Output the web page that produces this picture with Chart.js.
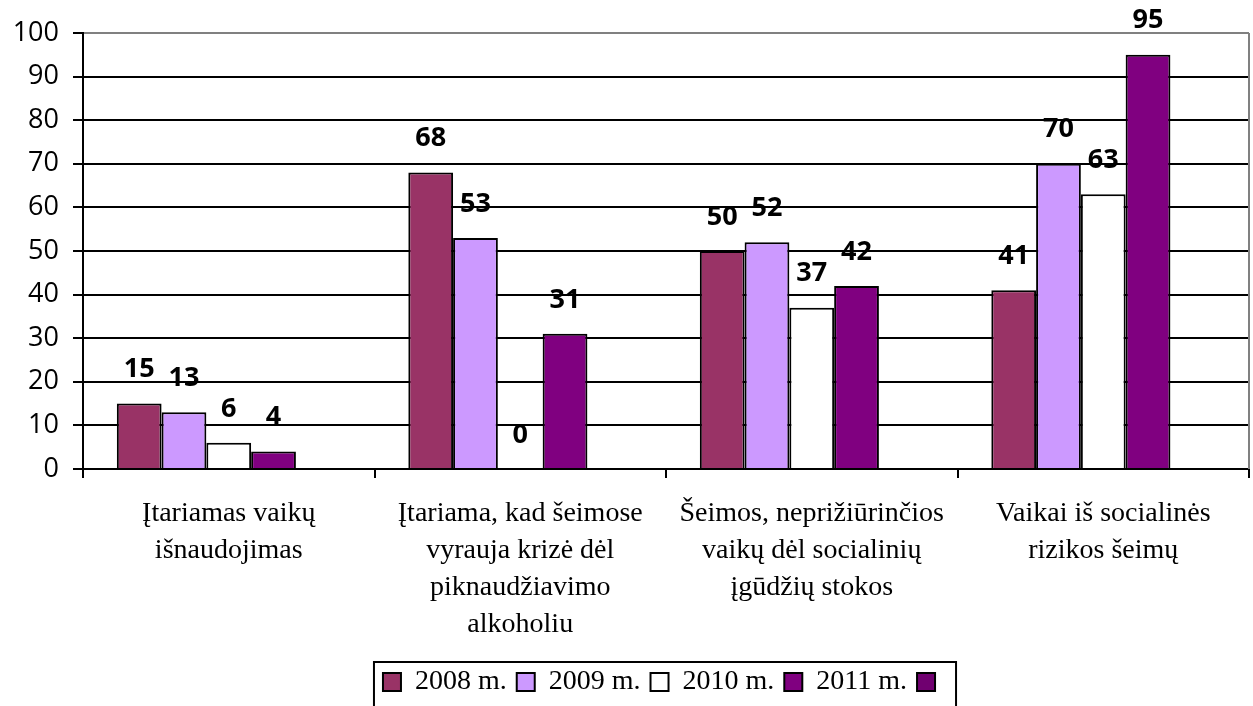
<!DOCTYPE html>
<html>
<head>
<meta charset="utf-8">
<script src="https://cdn.jsdelivr.net/npm/chart.js@4"></script>
<style>
  html, body { margin: 0; padding: 0; background: #fff; }
  #wrap { width: 1253px; height: 706px; position: relative; }
</style>
</head>
<body>
<div id="wrap"><canvas id="chart"></canvas></div>
<script>
const categories = [
  ['Įtariamas vaikų', 'išnaudojimas'],
  ['Įtariama, kad šeimose', 'vyrauja krizė dėl', 'piknaudžiavimo', 'alkoholiu'],
  ['Šeimos, neprižiūrinčios', 'vaikų dėl socialinių', 'įgūdžių stokos'],
  ['Vaikai iš socialinės', 'rizikos šeimų']
];
const seriesNames = ['2008 m.', '2009 m.', '2010 m.', '2011 m.', ''];
const values2008 = [15, 68, 50, 41];
const values2009 = [13, 53, 52, 70];
const values2010 = [6, 0, 37, 63];
const values2011 = [4, 31, 42, 95];
const valuesEmpty = [null, null, null, null]; // legend shows a 5th unnamed entry
const seriesColors = ['#993366', '#CC99FF', '#FFFFFF', '#800080', '#700070'];
const yMin = 0, yMax = 100, yStep = 10;

const allValues = [values2008, values2009, values2010, values2011, valuesEmpty];

// bold value labels above each bar
const valueLabels = {
  id: 'valueLabels',
  afterDatasetsDraw(chart) {
    const ctx = chart.ctx;
    ctx.save();
    ctx.font = 'bold 27px "Open Sans"';
    ctx.fillStyle = '#000';
    ctx.textAlign = 'center';
    ctx.textBaseline = 'middle';
    chart.data.datasets.forEach((ds, i) => {
      chart.getDatasetMeta(i).data.forEach((bar, j) => {
        const v = ds.data[j];
        if (v === null || v === undefined) return;
        ctx.fillText(String(v), bar.x, bar.y - 34);
      });
    });
    ctx.restore();
  }
};

// grey plot border on the right, box round the legend
const frames = {
  id: 'frames',
  beforeDatasetsDraw(chart) {
    const { ctx, chartArea } = chart;
    ctx.save();
    ctx.strokeStyle = '#808080';
    ctx.lineWidth = 2;
    ctx.beginPath();
    ctx.moveTo(chartArea.right, chartArea.top);
    ctx.lineTo(chartArea.right, chartArea.bottom);
    ctx.stroke();
    ctx.restore();
  },
  afterDraw(chart) {
    const lg = chart.legend;
    if (!lg || !lg.legendHitBoxes.length) return;
    const boxes = lg.legendHitBoxes;
    const left = boxes[0].left - 9;
    const right = boxes[boxes.length - 1].left + 18 + 21;
    const ctx = chart.ctx;
    ctx.save();
    ctx.strokeStyle = '#000';
    ctx.lineWidth = 2;
    ctx.strokeRect(left, 662, right - left, 60);
    ctx.restore();
  }
};

const ctx = document.getElementById('chart').getContext('2d');
new Chart(ctx, {
  type: 'bar',
  data: {
    labels: categories,
    datasets: allValues.map((vals, i) => ({
      label: seriesNames[i],
      data: vals,
      backgroundColor: seriesColors[i],
      borderColor: '#000',
      borderWidth: 2,
      categoryPercentage: 0.768,
      barPercentage: 1
    }))
  },
  options: {
    responsive: true,
    maintainAspectRatio: false,
    animation: false,
    layout: { padding: { top: 33, right: 4, left: 0, bottom: 0 } },
    plugins: {
      tooltip: { enabled: false },
      legend: {
        position: 'bottom',
        fullSize: false,
        labels: {
          boxWidth: 18,
          boxHeight: 18,
          padding: 10,
          color: '#000',
          font: { family: '"Liberation Serif"', size: 28 }
        }
      }
    },
    scales: {
      x: {
        offset: true,
        grid: {
          offset: true,
          drawOnChartArea: false,
          tickLength: 9,
          color: '#000',
          lineWidth: 2
        },
        border: { color: '#000', width: 2 },
        ticks: {
          color: '#000',
          padding: 17,
          maxRotation: 0,
          autoSkip: false,
          font: { family: '"Liberation Serif"', size: 28, lineHeight: 1.32 }
        },
        afterFit(scale) { scale.height = 189; }
      },
      y: {
        min: yMin,
        max: yMax,
        grid: {
          color: (c) => (c.tick && c.tick.value === yMax ? '#808080' : '#000'),
          tickColor: '#000',
          lineWidth: 2,
          tickLength: 10
        },
        border: { color: '#000', width: 2 },
        ticks: {
          stepSize: yStep,
          color: '#000',
          padding: 14,
          font: { family: '"Open Sans"', size: 27 }
        },
        afterFit(scale) { scale.width = 83; }
      }
    }
  },
  plugins: [valueLabels, frames]
});
</script>
</body>
</html>
